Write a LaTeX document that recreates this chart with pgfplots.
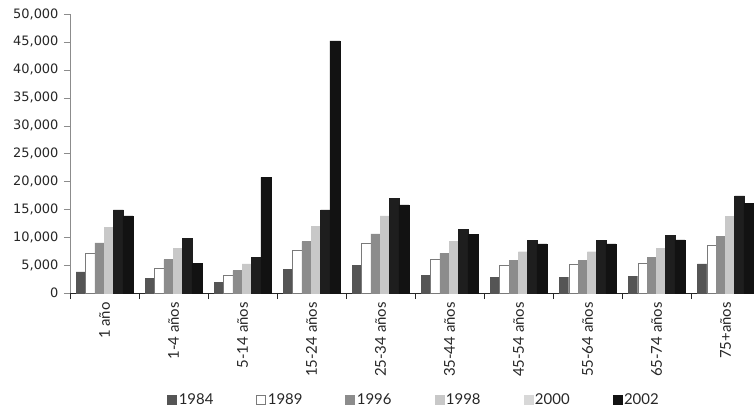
\documentclass[border=0pt]{standalone}
\usepackage{fontspec}
\setmainfont{Lato}
\newfontfamily\numfont{DejaVu Sans}
\usepackage{pgfplots}
\pgfplotsset{compat=1.18}

\definecolor{cA}{HTML}{555555}
\definecolor{cB}{HTML}{FFFFFF}
\definecolor{cBedge}{HTML}{7A7A7A}
\definecolor{cC}{HTML}{8C8C8C}
\definecolor{cD}{HTML}{C8C8C8}
\definecolor{cE}{HTML}{1E1E1E}
\definecolor{cEkey}{HTML}{D8D8D8}
\definecolor{cF}{HTML}{121212}

\begin{document}
\begin{tikzpicture}
\begin{axis}[
  scale only axis, width=684bp, height=279bp,
  xmin=-0.5, xmax=9.41, ymin=0, ymax=50000,
  axis x line=bottom, axis y line=left, axis line style={-},
  x axis line style={black!85},
  y axis line style={black!45},
  ybar, bar width=0.145,
  ytick={0,5000,...,50000},
  scaled y ticks=false,
  /pgf/number format/1000 sep={,},
  /pgf/number format/assume math mode=true,
  yticklabel style={font=\numfont\fontsize{13}{13}\selectfont, text=black!85, xshift=-2bp},
  tick align=outside,
  major tick length=6bp,
  minor tick length=6bp,
  y tick style={black!45},
  xtick={0,...,9},
  xticklabels={1 año, 1-4 años, 5-14 años, 15-24 años, 25-34 años, 35-44 años, 45-54 años, 55-64 años, 65-74 años, 75+años},
  major x tick style={draw=none},
  minor xtick={-0.5,0.5,...,9.5},
  minor x tick style={black!85},
  xticklabel style={rotate=90, anchor=east, font=\fontsize{15}{15}\selectfont, text=black!85, inner sep=3bp},
  legend image code/.code={\draw[#1] (0bp,-4.5bp) rectangle (9bp,4.5bp);},
  legend style={at={(0.503,-0.384)}, anchor=center, draw=none, fill=none,
    font=\fontsize{15}{15}\selectfont, text=black!85,
    /tikz/every even column/.append style={column sep=41bp}},
  legend columns=6,
]
% 1984
\addplot[fill=cA, draw=cA, bar shift=-0.337, forget plot] coordinates
  {(0,3800) (1,2600) (2,1850) (3,4200) (4,5000) (5,3200) (6,2800) (7,2750) (8,3000) (9,5200)};
% 1989
\addplot[fill=cB, draw=cBedge, bar shift=-0.202, forget plot] coordinates
  {(0,7100) (1,4500) (2,3200) (3,7700) (4,8900) (5,6000) (6,5000) (7,5200) (8,5300) (9,8600)};
% 1996
\addplot[fill=cC, draw=cC, bar shift=-0.067, forget plot] coordinates
  {(0,9000) (1,6000) (2,4000) (3,9200) (4,10600) (5,7100) (6,5900) (7,5900) (8,6400) (9,10200)};
% 1998
\addplot[fill=cD, draw=cD, bar shift=0.067, forget plot] coordinates
  {(0,11800) (1,8000) (2,5200) (3,11900) (4,13800) (5,9200) (6,7400) (7,7400) (8,8000) (9,13700)};
% 2000
\addplot[fill=cE, draw=cE, bar shift=0.202, forget plot] coordinates
  {(0,14900) (1,9800) (2,6400) (3,14900) (4,17000) (5,11400) (6,9400) (7,9400) (8,10300) (9,17400)};
% 2002
\addplot[fill=cF, draw=cF, bar shift=0.337, forget plot] coordinates
  {(0,13800) (1,5300) (2,20700) (3,45200) (4,15800) (5,10500) (6,8800) (7,8800) (8,9500) (9,16100)};

\addlegendimage{fill=cA, draw=cA}
\addlegendentry{1984}
\addlegendimage{fill=cB, draw=cBedge}
\addlegendentry{1989}
\addlegendimage{fill=cC, draw=cC}
\addlegendentry{1996}
\addlegendimage{fill=cD, draw=cD}
\addlegendentry{1998}
\addlegendimage{fill=cEkey, draw=cEkey}
\addlegendentry{2000}
\addlegendimage{fill=cF, draw=cF}
\addlegendentry{2002}
\end{axis}
\pgfresetboundingbox
\path (-70bp,-116bp) rectangle (684bp,293bp);
\end{tikzpicture}
\end{document}
